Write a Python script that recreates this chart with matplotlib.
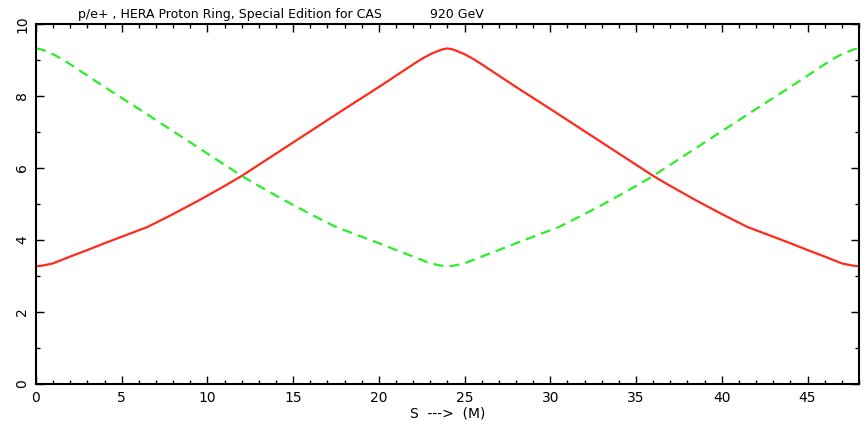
import numpy as np
import matplotlib.pyplot as plt
from matplotlib.ticker import MultipleLocator

# beta functions along one cell (s in metres)
s_x = [0, 0.25, 0.5, 1, 2, 3, 4, 5, 6, 6.5, 8, 9.5, 11, 12, 14, 16, 18, 20, 22, 22.5, 23,
       23.5, 23.75, 24, 24.25, 24.5, 25, 25.5, 26, 28, 30, 32, 34, 36, 37, 38.5, 40, 41.5,
       42, 43, 44, 45, 46, 47, 47.5, 47.75, 48]
beta_x = [3.27, 3.28, 3.30, 3.35, 3.54, 3.72, 3.91, 4.09, 4.27, 4.36, 4.72, 5.10, 5.50,
          5.78, 6.40, 7.02, 7.64, 8.25, 8.88, 9.03, 9.16, 9.26, 9.30, 9.32, 9.30, 9.26,
          9.16, 9.03, 8.88, 8.25, 7.64, 7.02, 6.40, 5.78, 5.50, 5.10, 4.72, 4.36, 4.27,
          4.09, 3.91, 3.72, 3.54, 3.35, 3.30, 3.28, 3.27]

s_y = [0, 0.25, 0.5, 1, 1.5, 2, 4, 6, 8, 10, 12, 13, 14.5, 16, 17.5, 18, 19, 20, 21, 22,
       23, 23.5, 23.75, 24, 24.25, 24.5, 25, 26, 27, 28, 29, 30, 30.5, 32, 33.5, 35, 36,
       38, 40, 42, 44, 46, 46.5, 47, 47.5, 47.75, 48]
beta_y = [9.32, 9.30, 9.26, 9.16, 9.03, 8.88, 8.25, 7.64, 7.02, 6.40, 5.78, 5.50, 5.10,
          4.72, 4.36, 4.27, 4.09, 3.91, 3.72, 3.54, 3.35, 3.30, 3.28, 3.27, 3.28, 3.30,
          3.35, 3.54, 3.72, 3.91, 4.09, 4.27, 4.36, 4.72, 5.10, 5.50, 5.78, 6.40, 7.02,
          7.64, 8.25, 8.88, 9.03, 9.16, 9.26, 9.30, 9.32]

fig = plt.figure(figsize=(8.65, 4.21), dpi=100)
ax = fig.add_axes([0.0416, 0.088, 0.9514, 0.855])

ax.plot(s_x, beta_x, color='#ff2a1a', lw=1.6)
ax.plot(s_y, beta_y, color='#2aee2a', lw=1.6, dashes=(4.5, 2.8))

ax.set_xlim(0, 48)
ax.set_ylim(0, 10)
ax.xaxis.set_major_locator(MultipleLocator(5))
ax.xaxis.set_minor_locator(MultipleLocator(1))
ax.yaxis.set_major_locator(MultipleLocator(2))
ax.yaxis.set_minor_locator(MultipleLocator(1))
ax.tick_params(which='both', direction='in', top=True, right=True, width=1.0)
ax.tick_params(which='major', length=5.5, labelsize=10, pad=5)
ax.tick_params(which='minor', length=3)
for lab in ax.get_yticklabels():
    lab.set_rotation(90)
    lab.set_va('center')
for sp in ax.spines.values():
    sp.set_linewidth(1.5)

ax.set_xlabel('S  --->  (M)', fontsize=10, labelpad=1)
fig.text(0.09, 0.965, 'p/e+ , HERA Proton Ring, Special Edition for CAS', fontsize=9, va='center')
fig.text(0.497, 0.965, '920 GeV', fontsize=9, va='center')

fig.savefig('out.png', dpi=100)
